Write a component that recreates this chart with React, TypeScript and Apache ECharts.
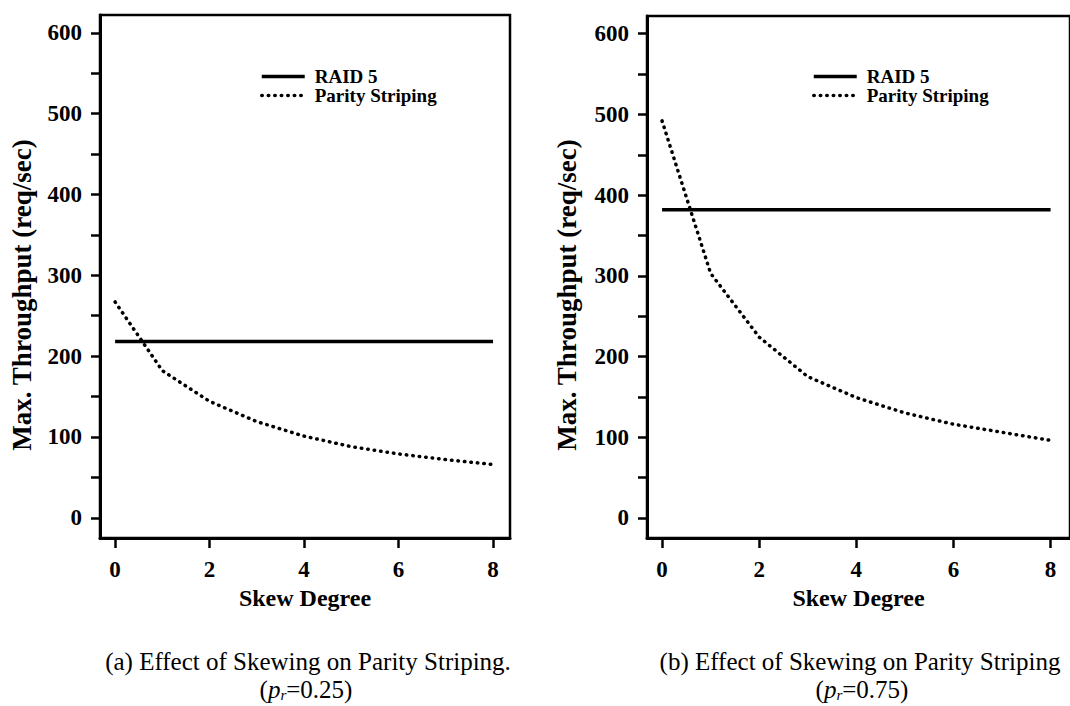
import React, { useEffect, useRef } from "react";
import * as echarts from "echarts";

// Skew degree sampled at each integer step
const skewDegree = [0, 1, 2, 3, 4, 5, 6, 7, 8];

// Panel (a): p_r = 0.25
const raid5Low = [218, 218, 218, 218, 218, 218, 218, 218, 218];
const parityLow = [267, 182, 144, 119, 101, 88, 79, 72, 66];

// Panel (b): p_r = 0.75
const raid5High = [382, 382, 382, 382, 382, 382, 382, 382, 382];
const parityHigh = [492, 303, 224, 175, 149, 130, 116, 106, 96];

const seriesNames = ["RAID 5", "Parity Striping"];
const xTickValues = [0, 2, 4, 6, 8];
const yLabelValues = [0, 100, 200, 300, 400, 500, 600];
const yTickValues = [0, 50, 100, 150, 200, 250, 300, 350, 400, 450, 500, 550, 600];

const xTitle = "Skew Degree";
const yTitle = "Max. Throughput (req/sec)";
const captionA = "(a) Effect of Skewing on Parity Striping.";
const captionB = "(b) Effect of Skewing on Parity Striping";
const paramA = "({i|p}{s|r}=0.25)";
const paramB = "({i|p}{s|r}=0.75)";

const FONT = "'Liberation Serif', 'DejaVu Serif', 'Times New Roman', serif";

const pairs = (ys: number[]) => skewDegree.map((x, i) => [x, ys[i]]);

function xAxisFor(gridIndex: number, min: number, max: number) {
  return {
    type: "value",
    gridIndex,
    min,
    max,
    name: xTitle,
    nameLocation: "middle",
    nameGap: 47,
    nameTextStyle: { fontFamily: FONT, fontSize: 24, fontWeight: "bold", color: "#000" },
    axisLine: { show: true, onZero: false, lineStyle: { color: "#000", width: 3 } },
    axisTick: {
      show: true,
      inside: false,
      length: 10,
      customValues: xTickValues,
      lineStyle: { color: "#000", width: 2.5 },
    },
    axisLabel: {
      customValues: xTickValues,
      margin: 20,
      fontFamily: FONT,
      fontSize: 23,
      fontWeight: "bold",
      color: "#000",
    },
    splitLine: { show: false },
  };
}

function yAxisFor(gridIndex: number) {
  return {
    type: "value",
    gridIndex,
    min: -25,
    max: 622,
    axisLine: { show: true, onZero: false, lineStyle: { color: "#000", width: 3 } },
    axisTick: {
      show: true,
      inside: false,
      length: 9,
      customValues: yTickValues,
      lineStyle: { color: "#000", width: 2.5 },
    },
    axisLabel: {
      customValues: yLabelValues,
      margin: 18,
      fontFamily: FONT,
      fontSize: 23,
      fontWeight: "bold",
      color: "#000",
    },
    splitLine: { show: false },
  };
}

function solid(name: string, idx: number, ys: number[]) {
  return {
    type: "line",
    name,
    xAxisIndex: idx,
    yAxisIndex: idx,
    data: pairs(ys),
    symbol: "none",
    showSymbol: false,
    lineStyle: { color: "#000", width: 3.5 },
    itemStyle: { color: "#000" },
  };
}

function dotted(name: string, idx: number, ys: number[]) {
  return {
    type: "line",
    name,
    xAxisIndex: idx,
    yAxisIndex: idx,
    data: pairs(ys),
    symbol: "none",
    showSymbol: false,
    lineStyle: { color: "#000", width: 3.5, type: [0.5, 6], cap: "round" },
    itemStyle: { color: "#000" },
  };
}

function legendAt(left: number, top: number) {
  return {
    left,
    top,
    orient: "vertical",
    itemWidth: 43,
    itemHeight: 14,
    itemGap: 0,
    padding: 0,
    selectedMode: false,
    data: seriesNames,
    itemStyle: { opacity: 0 },
    lineStyle: { width: 3.5 },
    textStyle: {
      fontFamily: FONT,
      fontSize: 19,
      lineHeight: 17,
      fontWeight: "bold",
      color: "#000",
      padding: [0, 0, 0, 5],
    },
  };
}

const richParam = {
  i: { fontFamily: FONT, fontSize: 25, fontStyle: "italic", lineHeight: 27 },
  s: { fontFamily: FONT, fontSize: 15, fontStyle: "italic", lineHeight: 15, verticalAlign: "bottom" },
};

function captionText(text: string, x: number, y: number) {
  return {
    type: "text",
    x,
    y,
    style: {
      text,
      fontFamily: FONT,
      fontSize: 25,
      fill: "#000",
      align: "center",
      verticalAlign: "middle",
    },
  };
}

function paramText(text: string, x: number, y: number) {
  return {
    type: "text",
    x,
    y,
    style: {
      text,
      fontFamily: FONT,
      fontSize: 25,
      lineHeight: 27,
      fill: "#000",
      align: "center",
      verticalAlign: "middle",
      rich: richParam,
    },
  };
}

function yTitleText(x: number, y: number) {
  return {
    type: "text",
    x,
    y,
    rotation: Math.PI / 2,
    style: {
      text: yTitle,
      fontFamily: FONT,
      fontSize: 27,
      fontWeight: "bold",
      fill: "#000",
      align: "center",
      verticalAlign: "middle",
    },
  };
}

export default function App() {
  const ref = useRef<HTMLDivElement>(null);

  useEffect(() => {
    if (!ref.current) return;
    const chart = echarts.init(ref.current, null, { renderer: "svg" });
    chart.setOption({
      animation: false,
      backgroundColor: "#fff",
      grid: [
        { left: 100, top: 15, width: 410, height: 523, show: true, borderColor: "#000", borderWidth: 2.5 },
        { left: 647, top: 16, width: 427, height: 522, show: true, borderColor: "#000", borderWidth: 2.5 },
      ],
      xAxis: [xAxisFor(0, -0.32, 8.36), xAxisFor(1, -0.31, 8.4)],
      yAxis: [yAxisFor(0), yAxisFor(1)],
      legend: [legendAt(260, 67), legendAt(812, 67)],
      series: [
        solid(seriesNames[0], 0, raid5Low),
        dotted(seriesNames[1], 0, parityLow),
        solid(seriesNames[0], 1, raid5High),
        dotted(seriesNames[1], 1, parityHigh),
      ],
      graphic: [
        yTitleText(22, 295),
        yTitleText(567, 295),
        captionText(captionA, 308, 661),
        paramText(paramA, 306, 689),
        captionText(captionB, 860, 661),
        paramText(paramB, 862, 689),
      ],
    });
    return () => chart.dispose();
  }, []);

  return (
    <div
      ref={ref}
      style={{ position: "fixed", left: 0, top: 0, width: 1070, height: 706, background: "#fff" }}
    />
  );
}
